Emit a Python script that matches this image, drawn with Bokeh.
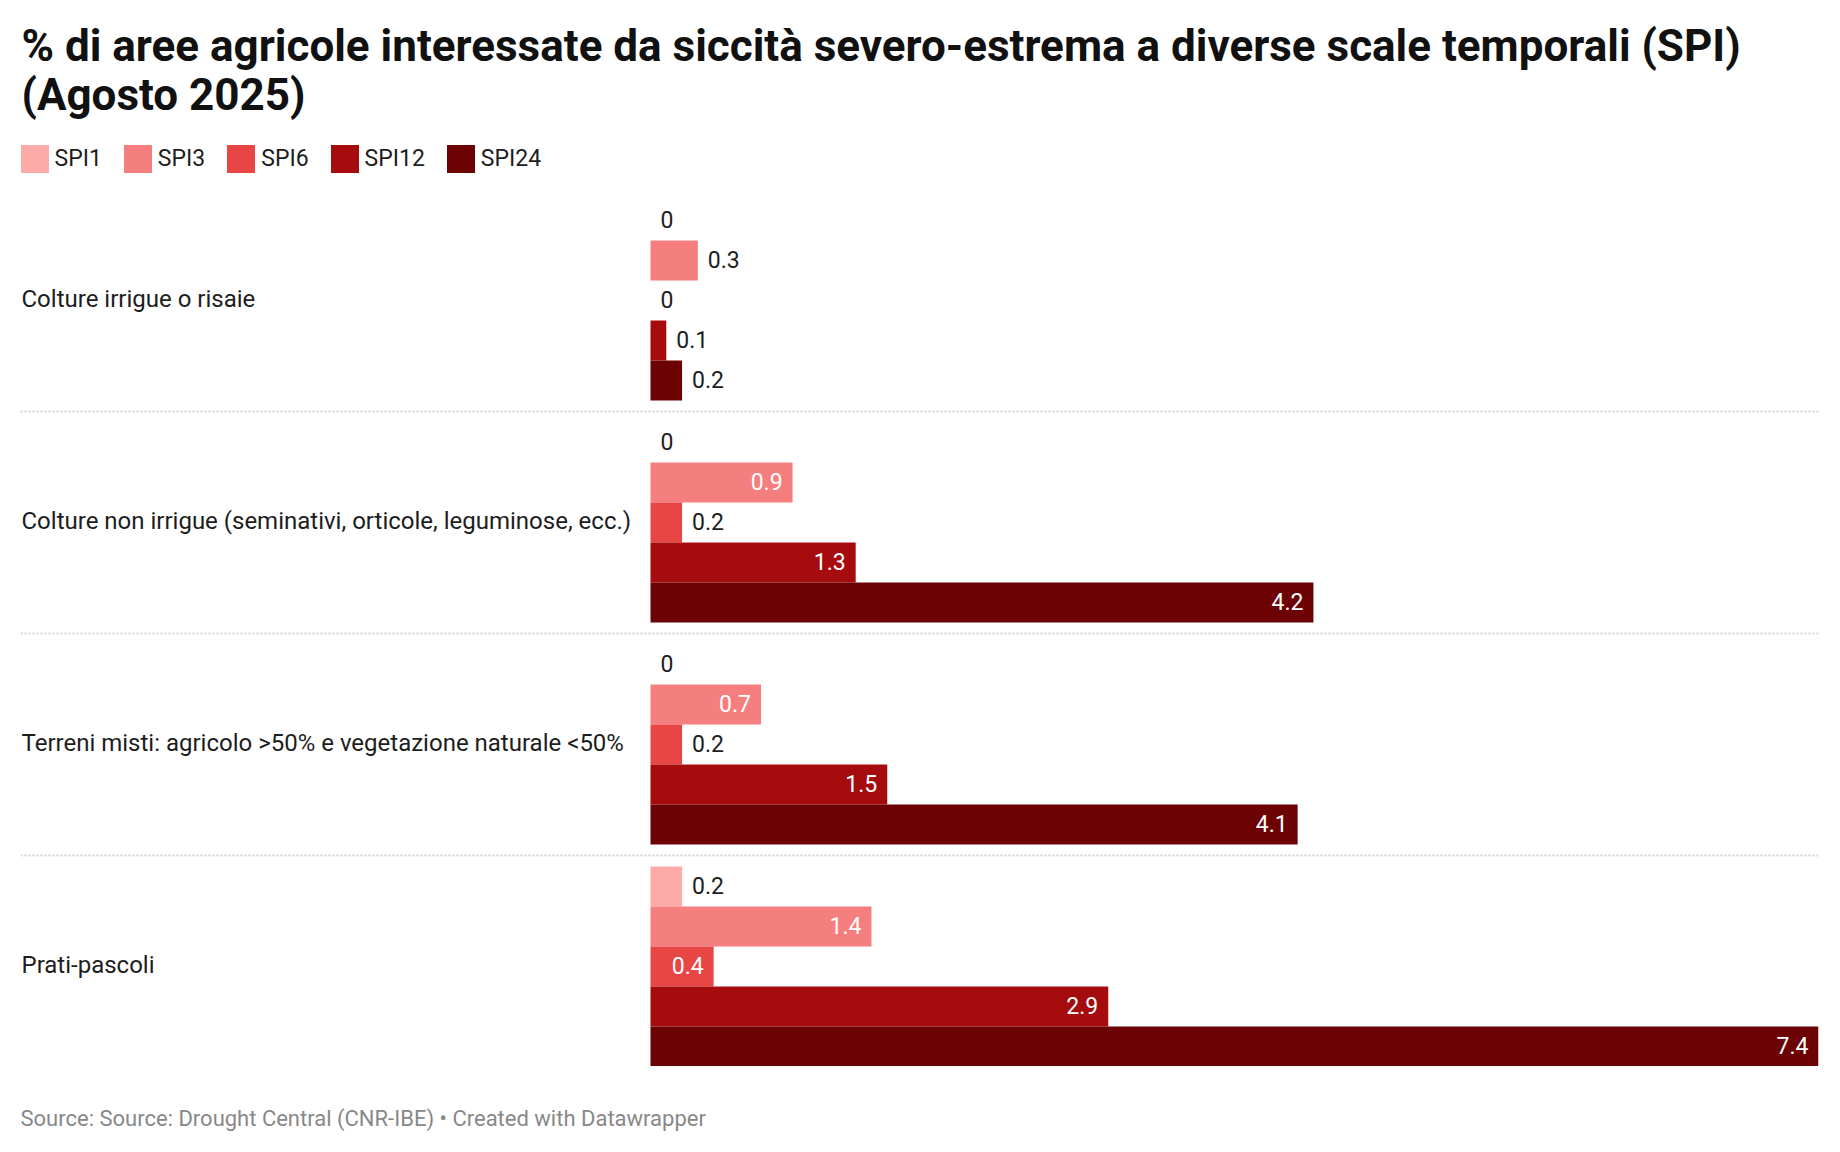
from bokeh.plotting import figure
from bokeh.layouts import column
from bokeh.models import FactorRange, Range1d, Span, Legend, LegendItem, Label, ColumnDataSource
from bokeh.embed import file_html
from bokeh.resources import INLINE
from bokeh.core.properties import value

# ---------------- data ----------------
categories = [
    "Colture irrigue o risaie",
    "Colture non irrigue (seminativi, orticole, leguminose, ecc.)",
    "Terreni misti: agricolo >50% e vegetazione naturale <50%",
    "Prati-pascoli",
]
series_names = ["SPI1", "SPI3", "SPI6", "SPI12", "SPI24"]
spi1 = [0, 0, 0, 0.2]
spi3 = [0.3, 0.9, 0.7, 1.4]
spi6 = [0, 0.2, 0.2, 0.4]
spi12 = [0.1, 1.3, 1.5, 2.9]
spi24 = [0.2, 4.2, 4.1, 7.4]
series_values = [spi1, spi3, spi6, spi12, spi24]
colors = ["#fdaba8", "#f57e7e", "#e84545", "#a60c0e", "#6d0204"]

title_line1 = "% di aree agricole interessate da siccità severo-estrema a diverse scale temporali (SPI)"
title_line2 = "(Agosto 2025)"
source_text = "Source: Source: Drought Central (CNR-IBE) • Created with Datawrapper"

# ---------------- layout constants ----------------
FONT = "Roboto"
W = 1824
HEAD_H, MAIN_H, FOOT_H = 200, 866, 70
BORDER_L, BORDER_R = 20, 6
FRAME_W = W - BORDER_L - BORDER_R
LABEL_SPACE = 630          # px of the frame reserved for category labels
X_MAX = 7.4
x_start = -X_MAX * LABEL_SPACE / (FRAME_W - LABEL_SPACE)
GROUP_PAD = 0.55
INSIDE_MIN = 0.4
TEXT_DARK = "#1d1d1d"


def bare(fig):
    fig.grid.visible = False
    fig.outline_line_color = None
    fig.background_fill_color = "white"
    fig.border_fill_color = "white"
    return fig


def pixel_panel(height):
    # a text-only panel whose data units are page pixels (frame aligned with the chart)
    return bare(figure(width=W, height=height,
                       x_range=Range1d(BORDER_L, W - BORDER_R), y_range=Range1d(height, 0),
                       output_backend="svg", toolbar_location=None, title=None,
                       min_border_left=BORDER_L, min_border_right=BORDER_R,
                       min_border_top=0, min_border_bottom=0,
                       x_axis_location=None, y_axis_location=None))


# ---------------- header: title + legend ----------------
head = pixel_panel(HEAD_H)
head.add_layout(Label(x=21, y=45, text=title_line1, text_font=FONT, text_font_size="44px",
                      text_font_style="bold", text_color="#111111", text_baseline="middle"))
head.add_layout(Label(x=21, y=94, text=title_line2, text_font=FONT, text_font_size="44px",
                      text_font_style="bold", text_color="#111111", text_baseline="middle"))

legend_items = []
for name, col in zip(series_names, colors):
    # zero-size placeholder renderer that only supplies the legend swatch style
    r = head.hbar(y=[0], left=[0], right=[0], height=0, fill_color=col, line_color=None)
    legend_items.append(LegendItem(label=name, renderers=[r]))
legend = Legend(items=legend_items, orientation="horizontal", glyph_width=35, glyph_height=35,
                label_standoff=3, spacing=18, padding=0, margin=0,
                border_line_color=None, background_fill_alpha=0,
                label_text_font=FONT, label_text_font_size="23px",
                label_text_color=TEXT_DARK, label_height=35,
                location=(-3.5, HEAD_H - 175.5))
head.add_layout(legend, "center")

# ---------------- main chart ----------------
factors = [(c, s) for c in reversed(categories) for s in reversed(series_names)]
y_range = FactorRange(factors=factors, factor_padding=0, group_padding=GROUP_PAD, range_padding=0)

p = bare(figure(width=W, height=MAIN_H, x_range=Range1d(x_start, X_MAX), y_range=y_range,
                output_backend="svg", toolbar_location=None, title=None,
                min_border_left=BORDER_L, min_border_right=BORDER_R,
                min_border_top=0, min_border_bottom=0,
                x_axis_location=None, y_axis_location=None))

in_x, in_y, in_t = [], [], []
out_x, out_y, out_t = [], [], []
for name, vals, col in zip(series_names, series_values, colors):
    src = ColumnDataSource(dict(y=[(c, name) for c in categories], right=vals))
    p.hbar(y="y", left=0, right="right", height=1.0, source=src,
           fill_color=col, line_color=None)
    for c, v in zip(categories, vals):
        txt = f"{v:g}"
        if v >= INSIDE_MIN:
            in_x.append(v); in_y.append((c, name)); in_t.append(txt)
        else:
            out_x.append(v); out_y.append((c, name)); out_t.append(txt)

p.text(x=in_x, y=in_y, text=in_t, x_offset=-10, y_offset=-1, text_align="right",
       text_baseline="middle", text_color="white", text_font=value(FONT), text_font_size="23px")
p.text(x=out_x, y=out_y, text=out_t, x_offset=10, y_offset=-1, text_align="left",
       text_baseline="middle", text_color=TEXT_DARK, text_font=value(FONT), text_font_size="23px")

# category labels
p.text(x=[x_start] * len(categories), y=categories, text=categories, x_offset=1, y_offset=-2,
       text_align="left", text_baseline="middle", text_color=TEXT_DARK,
       text_font=value(FONT), text_font_size="24px")

# dotted separators between groups
n = len(series_names)
for k in range(1, len(categories)):
    loc = k * n + (k - 1) * GROUP_PAD + GROUP_PAD / 2
    p.add_layout(Span(location=loc, dimension="width", line_color="#d4d4d4",
                      line_width=2, line_dash="2 2"))

# ---------------- footer ----------------
foot = pixel_panel(FOOT_H)
foot.add_layout(Label(x=20, y=52, text=source_text, text_font=FONT, text_font_size="22px",
                      text_color="#888888", text_baseline="middle"))

layout = column(head, p, foot, spacing=0)
open("out.html", "w").write(file_html(layout, INLINE))
